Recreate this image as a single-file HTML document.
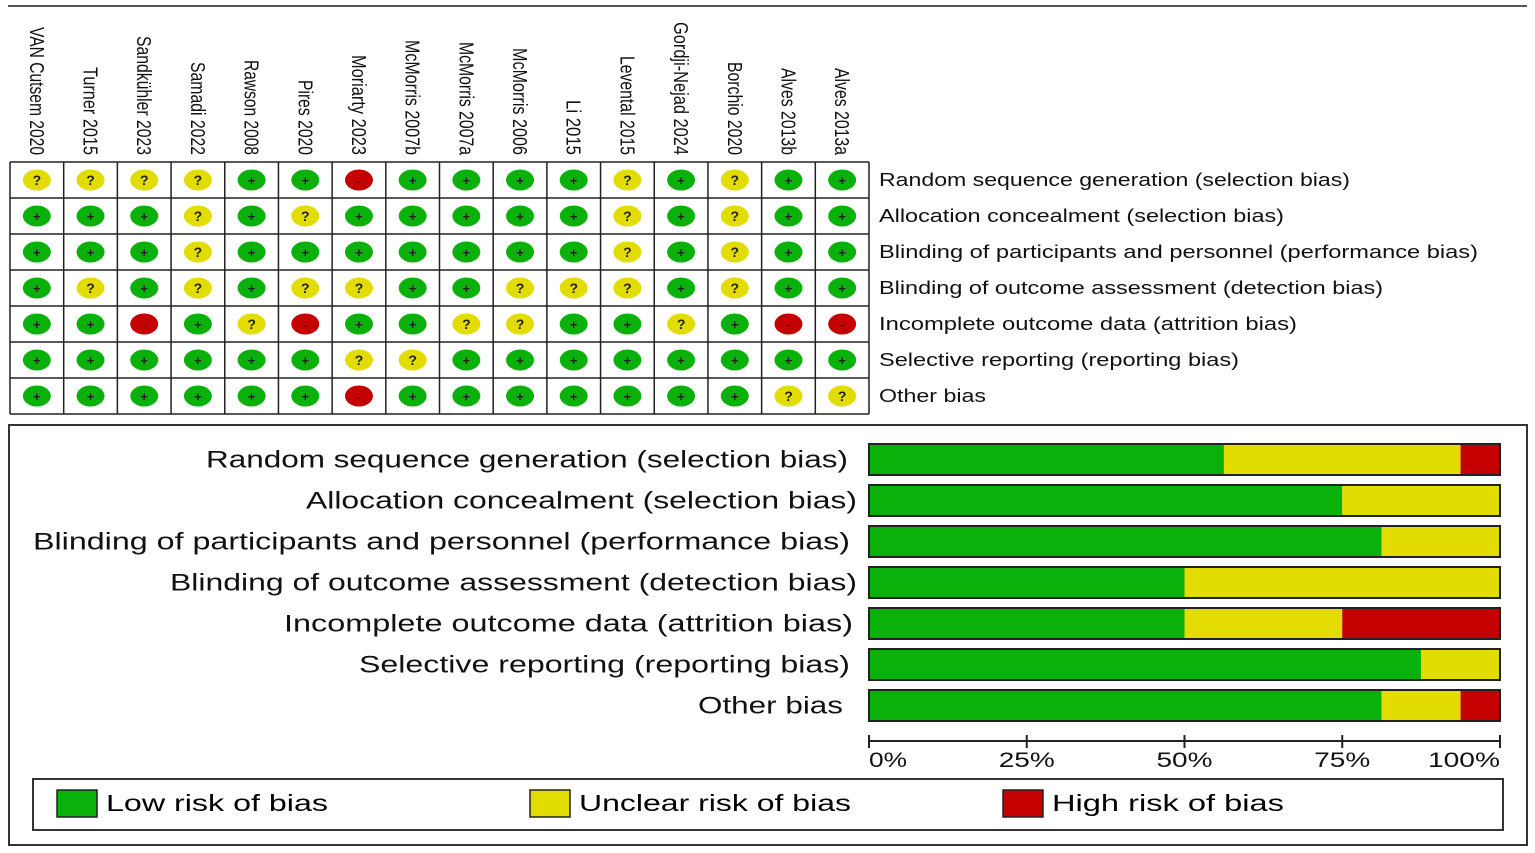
<!DOCTYPE html>
<html><head><meta charset="utf-8"><style>
html,body{margin:0;padding:0;background:#fff;}
svg{display:block;font-family:"Liberation Sans","DejaVu Sans",sans-serif;}
</style></head><body>
<svg id="chart" width="1535" height="853" viewBox="0 0 1535 853" xmlns="http://www.w3.org/2000/svg">
<line x1="8" y1="6" x2="1527" y2="6" stroke="#555" stroke-width="2"/>
<g id="grid"></g>
<rect x="9" y="425" width="1518" height="420" fill="none" stroke="#333" stroke-width="2"/>
<g id="bars"></g>
<g id="legend">
<rect x="33" y="779" width="1470" height="51" fill="none" stroke="#333" stroke-width="2"/>
<rect x="57" y="790" width="40" height="27" fill="#0bb10b" stroke="#222" stroke-width="1.5"/>
<text x="106" y="811" font-size="23" textLength="222" lengthAdjust="spacingAndGlyphs">Low risk of bias</text>
<rect x="530" y="790" width="40" height="27" fill="#e2dc00" stroke="#222" stroke-width="1.5"/>
<text x="579" y="811" font-size="23" textLength="272" lengthAdjust="spacingAndGlyphs">Unclear risk of bias</text>
<rect x="1003" y="790" width="40" height="27" fill="#c40000" stroke="#222" stroke-width="1.5"/>
<text x="1052" y="811" font-size="23" textLength="232" lengthAdjust="spacingAndGlyphs">High risk of bias</text>
</g>
</svg>
<script>
const studies = ["VAN Cutsem 2020","Turner 2015","Sandkühler 2023","Samadi 2022","Rawson 2008","Pires 2020","Moriarty 2023","McMorris 2007b","McMorris 2007a","McMorris 2006","Li 2015","Levental 2015","Gordji-Nejad 2024","Borchio 2020","Alves 2013b","Alves 2013a"];
const domains = ["Random sequence generation (selection bias)","Allocation concealment (selection bias)","Blinding of participants and personnel (performance bias)","Blinding of outcome assessment (detection bias)","Incomplete outcome data (attrition bias)","Selective reporting (reporting bias)","Other bias"];
// L = low, U = unclear, H = high ; one string per domain, one char per study
const judgements = [
 "UUUULLHLLLLULULL",
 "LLLULULLLLLULULL",
 "LLLULLLLLLLULULL",
 "LULULUULLUUULULL",
 "LLHLUHLLUULLULHH",
 "LLLLLLUULLLLLLLL",
 "LLLLLLHLLLLLLLUU"
];
const ticks = [0,25,50,75,100];

const NS="http://www.w3.org/2000/svg";
function mk(tag,attrs,parent,txt){const e=document.createElementNS(NS,tag);for(const k in attrs)e.setAttribute(k,attrs[k]);if(txt!==undefined)e.textContent=txt;parent.appendChild(e);return e;}
const col={L:"#0bb10b",U:"#e2dc00",H:"#c40000"};
const sym={L:"+",U:"?",H:"-"};

const gx0=10,gx1=869,gy0=162,rowH=36;
const cw=(gx1-gx0)/studies.length;
const colX=i=>gx0+cw*(i+0.5);
const rowY=r=>gy0+rowH*(r+0.5);
const grid=document.getElementById('grid');


const studyLen=[128,88,119,93,95,75,100,115,113,107,55,99,133,93,87,87];
studies.forEach((s,i)=>{
  const t=mk('text',{transform:`translate(${colX(i)},155) rotate(90)`,x:0,y:7,'text-anchor':'end','font-size':20,textLength:studyLen[i],lengthAdjust:'spacingAndGlyphs',fill:'#111'},grid,s);
  
  
});
const domLen=[471,405,599,504,418,360,107];
domains.forEach((d,r)=>{
  const t=mk('text',{x:879,y:rowY(r)+6,'font-size':18,textLength:domLen[r],lengthAdjust:'spacingAndGlyphs',fill:'#111'},grid,d);
  
  
});
judgements.forEach((row,r)=>{
  row.split('').forEach((j,i)=>{
    const e=mk('ellipse',{cx:colX(i),cy:rowY(r),rx:14,ry:10.5,fill:col[j]},grid);
    
    
    const t=mk('text',{x:colX(i),y:rowY(r)+5,'text-anchor':'middle','font-size':j==='U'?14:13,'font-weight':'bold',fill:j==='H'?'#700':'#222'},grid,sym[j]);
    
    
  });
});
for(let i=0;i<=studies.length;i++){const l=mk('line',{x1:gx0+cw*i,y1:gy0,x2:gx0+cw*i,y2:gy0+rowH*domains.length,stroke:'#222','stroke-width':1.5},grid);}
for(let r=0;r<=domains.length;r++){const l=mk('line',{x1:gx0,y1:gy0+rowH*r,x2:gx1,y2:gy0+rowH*r,stroke:'#222','stroke-width':1.5},grid);}

const bars=document.getElementById('bars');


const bx0=869,bx1=1500;
const xs=p=>bx0+(bx1-bx0)*p/100;
const barTop=r=>444+41*r, barH=31;
const labStart=[206,306,33,170,284,359,698],labLen=[642,551,817,687,569,491,145];
domains.forEach((d,r)=>{
  const row=judgements[r];const n=row.length;
  const cL=row.split('').filter(c=>c==='L').length,cU=row.split('').filter(c=>c==='U').length;
  const pL=cL/n*100,pU=cU/n*100;
  const segs=[['L',0,pL],['U',pL,pL+pU],['H',pL+pU,100]];
  segs.forEach(([k,a,b])=>{
    if(b-a<=0)return;
    const rc=mk('rect',{x:xs(a),y:barTop(r),width:xs(b)-xs(a),height:barH,fill:col[k]},bars);
    
    
  });
  const o=mk('rect',{x:xs(0),y:barTop(r),width:xs(100)-xs(0),height:barH,fill:'none',stroke:'#222','stroke-width':2},bars);
  
  
  const t=mk('text',{x:labStart[r],y:barTop(r)+barH/2+8,'font-size':24,textLength:labLen[r],lengthAdjust:'spacingAndGlyphs',fill:'#111'},bars,d);
  
  
});
const ax=mk('line',{x1:xs(0),y1:741,x2:xs(100),y2:741,stroke:'#222','stroke-width':2},bars);


const tickLen=[38,56,56,56,72];
ticks.forEach((p,i)=>{
  const tk=mk('line',{x1:xs(p),y1:735,x2:xs(p),y2:748,stroke:'#222','stroke-width':2},bars);
  
  
  const anchor=i===0?'start':(i===ticks.length-1?'end':'middle');
  const tl=mk('text',{x:xs(p),y:767,'text-anchor':anchor,'font-size':21,textLength:tickLen[i],lengthAdjust:'spacingAndGlyphs',fill:'#111'},bars,p+'%');
  
  
});
</script>
</body></html>
